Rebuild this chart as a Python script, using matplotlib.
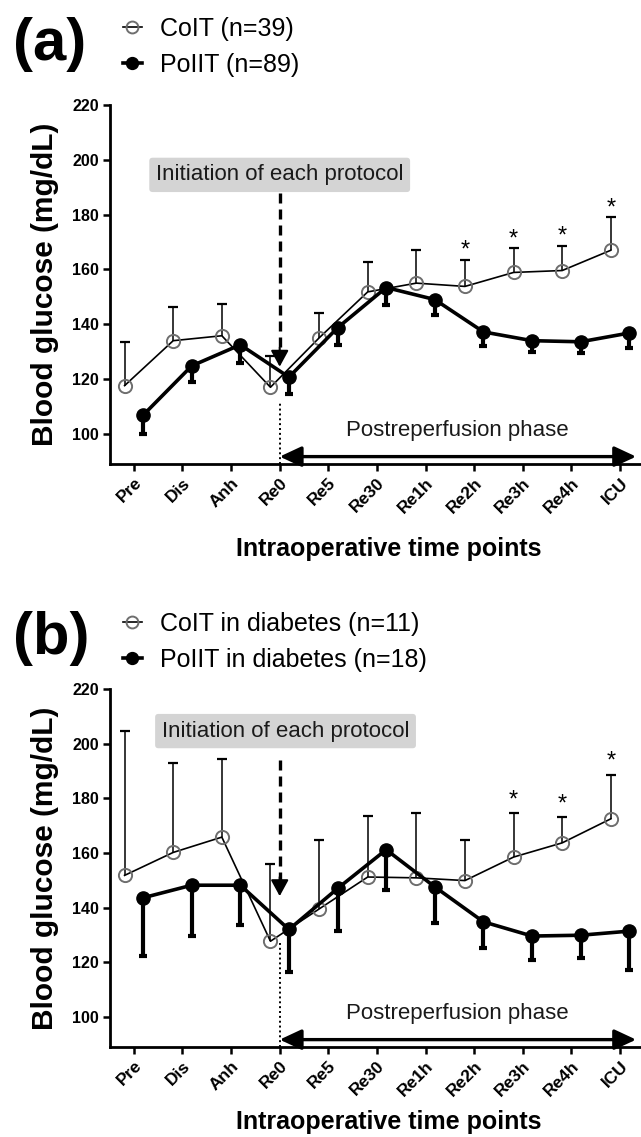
import numpy as np
import matplotlib
matplotlib.use("Agg")
import matplotlib.pyplot as plt

plt.rcParams['font.family'] = ['Liberation Sans', 'DejaVu Sans']

time_labels = ['Pre', 'Dis', 'Anh', 'Re0', 'Re5', 'Re30', 'Re1h', 'Re2h', 'Re3h', 'Re4h', 'ICU']

# Panel (a)
a_colt_mean = [117.6, 134.0, 135.8, 117.0, 135.0, 151.8, 155.0, 153.8, 158.9, 159.6, 167.0]
a_colt_sd = [16.1, 12.2, 11.6, 11.5, 9.2, 11.0, 12.0, 9.8, 9.0, 9.1, 12.2]
a_polt_mean = [106.8, 124.8, 132.5, 120.7, 138.7, 153.4, 149.0, 137.2, 134.0, 133.6, 136.8]
a_polt_sd = [6.8, 6.0, 6.7, 6.0, 6.2, 6.3, 5.8, 5.2, 4.0, 4.1, 5.3]
a_sig = ['Re2h', 'Re3h', 'Re4h', 'ICU']
a_labels = ['CoIT (n=39)', 'PoIIT (n=89)']

# Panel (b)
b_colt_mean = [151.8, 160.2, 165.8, 127.7, 139.5, 151.2, 150.9, 149.9, 158.5, 163.7, 172.5]
b_colt_sd = [52.8, 32.6, 28.5, 28.3, 25.3, 22.5, 23.7, 14.9, 16.1, 9.3, 16.1]
b_polt_mean = [143.6, 148.2, 148.2, 132.0, 147.0, 161.2, 147.6, 134.8, 129.6, 129.9, 131.4]
b_polt_sd = [21.3, 18.6, 14.4, 15.6, 15.4, 14.6, 13.2, 9.5, 8.6, 8.2, 14.4]
b_sig = ['Re3h', 'Re4h', 'ICU']
b_labels = ['CoIT in diabetes (n=11)', 'PoIIT in diabetes (n=18)']

yticks = [100, 120, 140, 160, 180, 200, 220]

W, H = 641, 1137
fig = plt.figure(figsize=(W / 100, H / 100), dpi=100)


def draw_panel(ax, colt_m, colt_sd, polt_m, polt_sd, sig, labels, box_xy,
               arrow_top, arrow_tip, dot_top, star_gap, leg_top, panel_label, panel_y,
               xlabel_y):
    x = np.arange(len(time_labels))
    off = 0.19
    xc = x - off
    xp = x + off
    colt_m = np.array(colt_m); colt_sd = np.array(colt_sd)
    polt_m = np.array(polt_m); polt_sd = np.array(polt_sd)

    # CoIT error bars (upper only)
    eb = ax.errorbar(xc, colt_m, yerr=[np.zeros_like(colt_sd), colt_sd], fmt='none',
                     ecolor='black', elinewidth=1.1, capsize=3.5, capthick=1.6, zorder=3)
    eb[1][0].set_visible(False)
    # PoIIT error bars (lower only)
    eb2 = ax.errorbar(xp, polt_m, yerr=[polt_sd, np.zeros_like(polt_sd)], fmt='none',
                      ecolor='black', elinewidth=3.0, capsize=3.0, capthick=3.0, zorder=4)
    eb2[1][1].set_visible(False)

    l1, = ax.plot(xc, colt_m, '-', color='black', lw=1.2, marker='o', ms=9.5,
                  mfc='none', mec='#6e6e6e', mew=1.4, zorder=5, label=labels[0])
    l2, = ax.plot(xp, polt_m, '-', color='black', lw=2.6, marker='o', ms=9.5,
                  mfc='black', mec='black', zorder=6, label=labels[1])

    # significance stars
    for lab in sig:
        i = time_labels.index(lab)
        ax.text(xc[i], colt_m[i] + colt_sd[i] + star_gap, '*', ha='center', va='baseline',
                fontsize=17, color='black')

    ax.set_xlim(-0.49, 10.41)
    ax.set_ylim(89, 220)
    ax.set_yticks(yticks)
    ax.set_yticklabels([str(t) for t in yticks], fontsize=11.5, fontweight='bold')
    ax.set_xticks(x)
    ax.set_xticklabels(time_labels, rotation=45, ha='right', rotation_mode='anchor',
                       fontsize=12.5, fontweight='bold')
    ax.tick_params(axis='both', direction='out', length=5, width=1.8, pad=3)
    for s in ['top', 'right']:
        ax.spines[s].set_visible(False)
    for s in ['left', 'bottom']:
        ax.spines[s].set_linewidth(2.0)

    ax.set_ylabel('Blood glucose (mg/dL)', fontsize=21.5, fontweight='bold')
    ax.yaxis.set_label_coords(-0.097, 0.5)
    ax.set_xlabel('Intraoperative time points', fontsize=18, fontweight='bold')
    ax.xaxis.label.set_va('center')
    ax.xaxis.set_label_coords(0.525, xlabel_y)

    # protocol box
    ax.text(box_xy[0], box_xy[1], 'Initiation of each protocol', ha='center', va='center',
            fontsize=16, color='#1a1a1a',
            bbox=dict(boxstyle='round,pad=0.3,rounding_size=0.15', fc='#d4d4d4', ec='none'))
    # dashed arrow
    ax.plot([3, 3], [arrow_top, arrow_tip + 6], ls=(0, (3, 1.8)), color='black', lw=2.4, zorder=2)
    ax.annotate('', xy=(3, arrow_tip), xytext=(3, arrow_tip + 7),
                arrowprops=dict(arrowstyle='-|>,head_length=0.55,head_width=0.3', color='black',
                                lw=1.5, mutation_scale=18, shrinkA=0, shrinkB=0))
    # dotted line at Re0
    ax.plot([3, 3], [89, dot_top], ls=(0, (1, 1.5)), color='black', lw=1.4, zorder=2)
    # postreperfusion arrow
    ax.annotate('', xy=(10.33, 91.7), xytext=(3.0, 91.7),
                arrowprops=dict(arrowstyle='<|-|>,head_length=0.6,head_width=0.28', color='black',
                                lw=2.4, mutation_scale=22, shrinkA=0, shrinkB=0))
    ax.text(6.65, 101.2, 'Postreperfusion phase', ha='center', va='center', fontsize=16,
            color='#1a1a1a')

    # legend
    ax.legend(handles=[l1, l2], loc='upper left', bbox_to_anchor=(123 / W, leg_top),
              bbox_transform=fig.transFigure, frameon=False, fontsize=18,
              handlelength=0.75, handletextpad=0.75, labelspacing=0.47, borderpad=0,
              borderaxespad=0, markerscale=0.9)
    fig.text(13 / W, panel_y, panel_label, ha='left', va='center', fontsize=43,
             fontweight='bold')


ax_a = fig.add_axes([110 / W, 1 - 464 / H, 530 / W, (464 - 105) / H])
ax_b = fig.add_axes([110 / W, 1 - 1047 / H, 530 / W, (1047 - 689) / H])

draw_panel(ax_a, a_colt_mean, a_colt_sd, a_polt_mean, a_polt_sd, a_sig, a_labels,
           (3.0, 194.5), 188, 124.5, 112, 1.0, 1 - 17 / H, '(a)', 1 - 44 / H,
           -(549 - 464) / 359)
draw_panel(ax_b, b_colt_mean, b_colt_sd, b_polt_mean, b_polt_sd, b_sig, b_labels,
           (3.12, 204.6), 194, 144.2, 127, 2.5, 1 - 612 / H, '(b)', 1 - 638 / H,
           -(1122 - 1047) / 358)

fig.savefig('out.png', dpi=100)
